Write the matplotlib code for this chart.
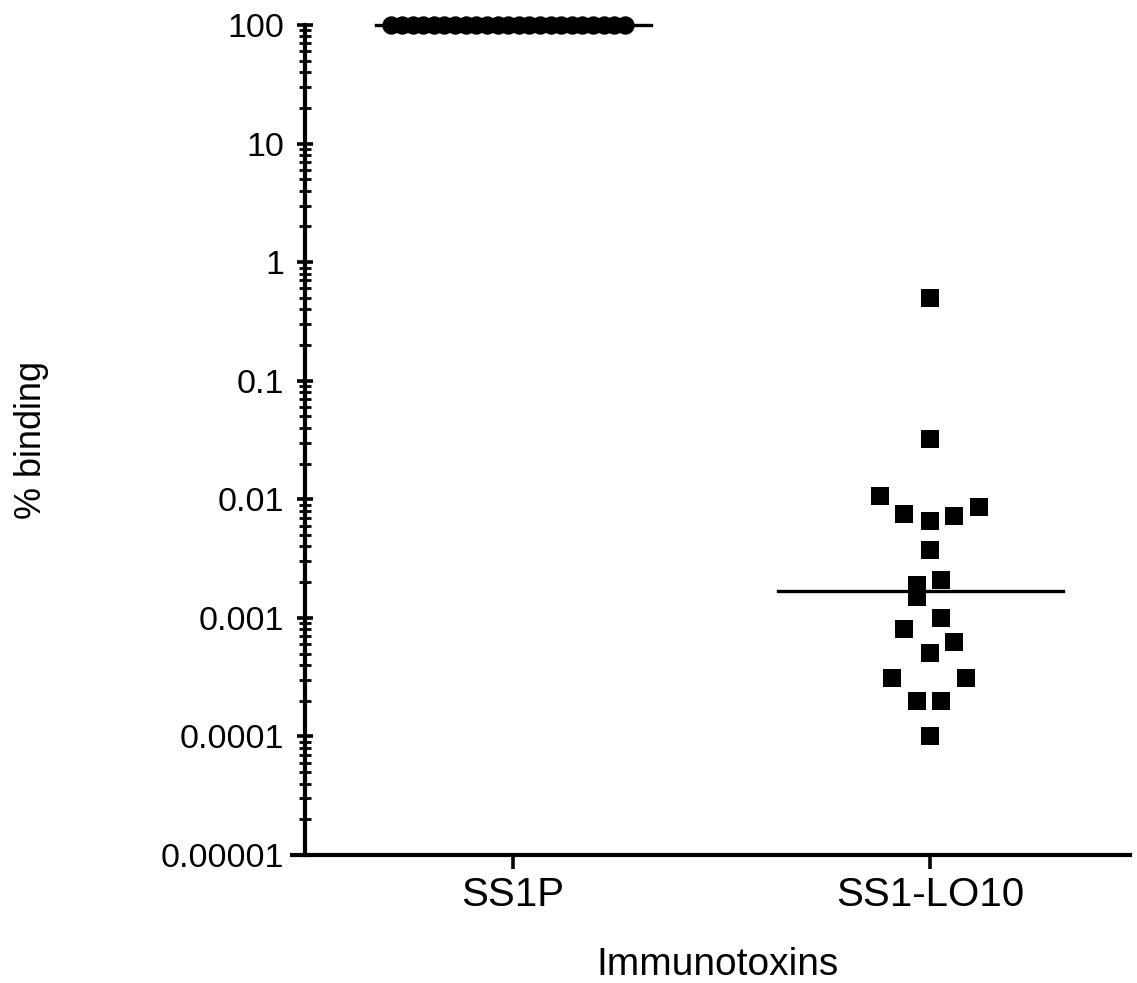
import numpy as np
import matplotlib
matplotlib.use('Agg')
from matplotlib import pyplot as plt

plt.rcParams['font.family'] = ['Liberation Sans', 'DejaVu Sans']

# data
categories = ['SS1P', 'SS1-LO10']
ss1p_values = [100.0] * 23
lo10_values = [0.5, 0.032, 0.0107, 0.0075, 0.0066, 0.0072, 0.0086, 0.0037, 0.0021,
               0.0019, 0.0015, 0.001, 0.00081, 0.00062, 0.00051, 0.00031, 0.00031,
               0.0002, 0.0002, 0.0001]
# horizontal scatter of the squares, as placed in the original column scatter
lo10_jitter = [0.0, 0.0, -0.12, -0.062, 0.0, 0.058, 0.117, 0.0, 0.026,
               -0.031, -0.031, 0.026, -0.062, 0.058, 0.0, -0.091, 0.086,
               -0.031, 0.026, 0.0]
ytick_vals = [1e-5, 1e-4, 1e-3, 1e-2, 1e-1, 1, 10, 100]
ytick_labels = ['0.00001', '0.0001', '0.001', '0.01', '0.1', '1', '10', '100']

fig = plt.figure(figsize=(11.37, 9.83), dpi=100)
ax = fig.add_axes([0.268, 0.1302, 0.726, 0.8444])

# SS1P: all points at 100, spread across the column
x1 = 1 + np.linspace(-0.28, 0.28, len(ss1p_values)) - 0.012
ax.scatter(x1, ss1p_values, s=175, marker='o', color='black', zorder=3, linewidths=0,
           clip_on=False)
ax.plot([1 - 0.33, 1 + 0.33], [np.median(ss1p_values)] * 2, color='black', lw=2.4, zorder=2,
        clip_on=False)

# SS1-LO10
x2 = 2 + np.array(lo10_jitter)
ax.scatter(x2, lo10_values, s=170, marker='s', color='black', zorder=3, linewidths=0)
ax.plot([2 - 0.365, 2 + 0.32], [np.median(lo10_values)] * 2, color='black', lw=2.4, zorder=2)

ax.set_yscale('log')
ax.set_ylim(1e-5, 100)
ax.set_xlim(0.5, 2.48)
ax.set_yticks(ytick_vals)
ax.set_yticklabels(ytick_labels)
ax.yaxis.set_minor_locator(matplotlib.ticker.LogLocator(base=10, subs=np.arange(2, 10)))
ax.yaxis.set_minor_formatter(matplotlib.ticker.NullFormatter())
ax.set_xticks([1, 2])
ax.set_xticklabels(categories)

for side in ['top', 'right']:
    ax.spines[side].set_visible(False)
for side in ['left', 'bottom']:
    ax.spines[side].set_linewidth(3.0)

ax.tick_params(axis='y', which='major', direction='inout', length=12, width=2.6,
               labelsize=24.5, pad=9)
ax.tick_params(axis='y', which='minor', direction='inout', length=8, width=2.0)
ax.tick_params(axis='x', which='major', direction='out', length=10, width=2.6,
               labelsize=29, pad=5)

# bottom axis line runs a little past the y axis, as in the original
ax.plot([-0.018, 0], [0, 0], transform=ax.transAxes, color='black', lw=3.0,
        clip_on=False, solid_capstyle='butt')

ax.set_xlabel('Immunotoxins', fontsize=28, labelpad=24)
ax.set_ylabel('% binding', fontsize=26, labelpad=80)

fig.savefig('out.png', dpi=100)
